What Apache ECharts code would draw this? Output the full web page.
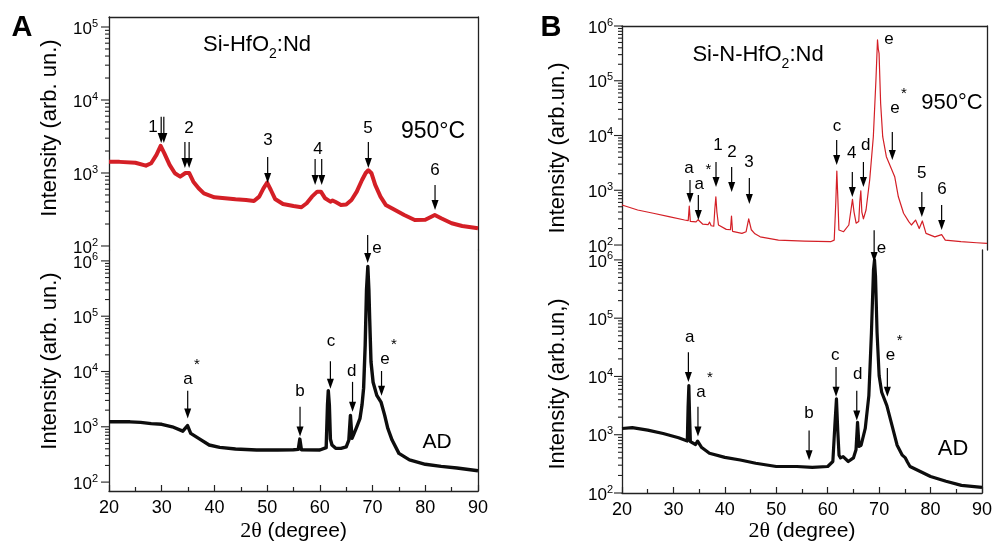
<!DOCTYPE html>
<html><head><meta charset="utf-8">
<script src="https://cdn.jsdelivr.net/npm/echarts@6/dist/echarts.min.js"></script>
<style>html,body{margin:0;padding:0;background:#fff}#c{width:995px;height:543px}</style>
</head><body><div id="c"></div>
<script>
// ---------- data ----------
const xTicks = [20, 30, 40, 50, 60, 70, 80, 90];
const yMajorTicks = [100, 1000, 10000, 100000, 1000000];
const yMinorMantissa = [2, 3, 4, 5, 6, 7, 8, 9];

// Panel A, 950°C (red)
const aTop = [[20,1430],[22,1420],[25,1380],[27,1260],[28,1360],[29,1770],[29.8,2350],[30.5,1860],[31.5,1290],[32.5,990],[33.5,890],[34.5,1000],[35.2,1000],[36,760],[37,617],[38,525],[40,465],[42,450],[44,436],[46,427],[47.5,414],[48.5,475],[49.3,617],[50,736],[50.7,585],[51.5,441],[53,376],[55,353],[56.5,339],[57.5,385],[58.5,474],[59.5,555],[60.2,555],[61,450],[62,405],[62.4,420],[63,400],[64,365],[65,370],[66,427],[67,555],[68,802],[68.7,1000],[69.2,1090],[69.8,990],[70.5,686],[71.5,475],[72.5,365],[74,318],[76,266],[78,227],[80,229],[81.8,266],[83,240],[85,205],[87,188],[90,175]];
// Panel A, AD (black)
const aBot = [[20,1230],[24,1230],[26,1200],[28,1140],[30,1110],[32,1000],[34,833],[34.9,1050],[35.5,760],[37,617],[39,468],[41,425],[44,396],[48,380],[52,380],[55,385],[55.9,390],[56.2,600],[56.5,385],[60,380],[61.2,420],[61.45,2500],[61.6,4500],[61.8,2500],[62.0,600],[62.3,468],[63,408],[64,408],[65,435],[65.5,576],[65.8,1610],[66.1,617],[66.5,760],[67.0,1000],[67.6,1400],[68.0,2500],[68.3,5000],[68.6,30000],[68.85,300000],[69.1,790000],[69.3,300000],[69.45,90000],[69.7,15000],[70.1,6400],[70.8,3700],[71.6,2800],[72.3,1610],[72.9,930],[73.7,576],[75,331],[77,252],[80,210],[83,192],[86,180],[90,160]];
// Panel B, 950°C (red)
const bTop = [[20,537],[23,436],[26,380],[29,329],[32,286],[32.7,280],[32.9,515],[33.1,270],[34.2,265],[34.6,290],[35.5,240],[36.5,235],[36.8,262],[37.1,225],[37.6,222],[37.8,450],[38.0,760],[38.2,400],[38.5,232],[40,193],[40.8,190],[41.0,339],[41.2,178],[43,163],[43.8,175],[44.3,300],[44.8,190],[45.5,160],[46.5,141],[50,123],[55,118],[60,115],[60.7,123],[61.0,600],[61.2,2250],[61.4,700],[61.6,188],[62.5,175],[63.5,232],[64.0,500],[64.2,680],[64.5,400],[64.9,251],[65.4,268],[65.6,600],[65.8,978],[66.0,400],[66.3,300],[66.8,436],[67.5,1540],[68.2,9500],[68.7,103000],[69.0,560000],[69.15,380000],[69.3,317000],[69.6,38700],[70,9500],[70.7,4100],[71.5,2700],[72.3,1770],[73,760],[74,380],[75,268],[75.5,232],[76.3,286],[77,200],[77.6,275],[78.3,163],[80,141],[81.3,155],[82,123],[85,115],[88,110],[90,107]];
// Panel B, AD (black)
const bBot = [[20,1280],[22,1320],[25,1200],[28,1050],[31,887],[32.7,780],[32.85,3000],[33.0,7000],[33.15,2000],[33.3,760],[34.3,680],[34.7,777],[35.5,603],[37,480],[40,408],[43,369],[46,324],[50,285],[54,285],[57,276],[60,285],[61,347],[61.4,1500],[61.7,4140],[61.95,1200],[62.2,446],[62.5,400],[63,420],[64,347],[65,400],[65.5,550],[65.8,1630],[66.1,630],[66.5,660],[67.3,1280],[68,4700],[68.5,56000],[68.9,675000],[69.1,1000000],[69.3,520000],[69.6,56000],[70,10300],[70.5,5360],[71.5,3160],[72.5,1450],[73.5,660],[74.5,446],[75.1,400],[75.3,430],[75.5,340],[76,285],[78,234],[80,192],[83,159],[86,135],[90,125]];

// annotations: [x, arrowTip, arrowTop, labelX, labelY]
const annAT = [[29.9,2570,5900,28.35,4270],[30.4,2570,5900,30.4,5900],[34.4,1170,2660,35.18,4130],[35.2,1170,2660,35.2,2660],[50.1,730,1660,50.16,2830],[59.1,686,1550,59.65,2130],[60.35,686,1550,60.35,1550],[69.2,1170,2660,69.14,4130],[81.85,311,686,81.85,1100]];
const annATText = ['1','','2','','3','4','','5','6'];
const annAB = [[69.07,920000,2930000,70.84,1710000],[34.93,1406,4470,34.99,7330],[56.24,668,2307,56.24,4470],[62.0,4850,15400,62.12,35200],[66.2,1880,6490,66.04,10200],[71.7,3630,10200,72.36,16700]];
const annABText = ['e','a*','b','c','d','e*'];
const annBT = [[33.04,585,1540,32.85,2550],[34.64,286,818,34.83,1300],[38.03,1150,3280,38.41,6700],[41.03,929,2660,41.1,5000],[44.42,561,1675,44.36,3280],[61.17,2890,8280,61.23,14900],[64.17,753,2154,64.05,4790],[66.3,1150,3280,66.74,6700],[71.2,580000,580000,71.2,580000],[71.84,3570,11600,72.36,31800],[77.5,324,929,77.48,2070],[81.3,188,537,81.37,1055]];
const annBTText = ['a','a*','1','2','3','c','4','d','e','e*','5','6'];
const annBB = [[69.03,925000,3240000,70.44,1600000],[32.91,8050,26100,33.18,47000],[34.77,933,3030,35.34,5450],[56.38,365,1180,56.38,2300],[61.62,4480,14500,61.48,23200],[65.65,1750,5660,65.84,11000],[71.6,4480,13960,72.22,23200]];
const annBBText = ['e','a','a*','b','c','d','e*'];

// ---------- chart ----------
const FONT = 'Arial, "Liberation Sans", sans-serif';
const SERIF = '"Liberation Serif", "Times New Roman", serif';
const RED = '#d41f26', BLACK = '#0d0d0d', AXIS = '#222';

const grids = [
  {left: 109, top: 17, width: 369, height: 233},
  {left: 109, top: 250, width: 369, height: 243},
  {left: 622, top: 26, width: 365, height: 224},
  {left: 622, top: 250, width: 365, height: 245}
];
const yExp = [[1.945, 5.137], [1.839, 6.197], [1.909, 6.0], [2.0, 6.17]];
const labelMargin = [11, 11, 9, 9];

const xAxes = grids.map((g, i) => {
  const isTop = (i % 2 === 0);
  if (isTop) return {
    gridIndex: i, type: 'value', min: 20, max: 90, interval: 10, position: 'top',
    axisLine: {show: true, lineStyle: {color: AXIS, width: 1.3}},
    axisTick: {show: false}, axisLabel: {show: false}, splitLine: {show: false}
  };
  return {
    gridIndex: i, type: 'value', min: 20, max: 90, interval: 10, position: 'bottom',
    axisLine: {show: true, lineStyle: {color: AXIS, width: 1.3}},
    axisTick: {show: true, inside: true, length: 6, lineStyle: {color: AXIS, width: 1.2}},
    minorTick: {show: true, splitNumber: 2, length: 4, lineStyle: {color: AXIS, width: 1.2}},
    axisLabel: {fontSize: 18, fontFamily: FONT, color: '#000', margin: 8,
      formatter: v => xTicks.includes(v) ? String(v) : ''},
    splitLine: {show: false},
    name: '{t|2θ} (degree)', nameLocation: 'middle', nameGap: i === 1 ? 29 : 27,
    nameTextStyle: {fontSize: 21, fontFamily: FONT, color: '#000',
      rich: {t: {fontFamily: SERIF, fontSize: 22, color: '#000'}}}
  };
});

const yAxes = [];
const tickData = [];
grids.forEach((g, i) => {
  const min = Math.pow(10, yExp[i][0]), max = Math.pow(10, yExp[i][1]);
  const majors = yMajorTicks.filter(v => v >= min * 0.999 && v <= max * 1.001);
  const rows = [];
  yMajorTicks.forEach(p => {
    if (p >= min * 0.999 && p <= max * 1.001) rows.push([20, p, 1]);
    yMinorMantissa.forEach(m => { const v = m * p; if (v >= min && v <= max) rows.push([20, v, 0]); });
  });
  tickData.push(rows);
  yAxes.push({
    gridIndex: i, type: 'log', logBase: 10, min, max, position: 'left',
    axisLine: {show: true, lineStyle: {color: AXIS, width: 1.3}},
    axisTick: {show: false},
    axisLabel: {show: true, customValues: majors, margin: labelMargin[i], fontSize: 17, fontFamily: FONT, color: '#000',
      lineHeight: 22, padding: [4, 0, 0, 0],
      formatter: v => '10{s|' + Math.round(Math.log10(v)) + '}',
      rich: {s: {fontSize: 11, fontFamily: FONT, color: '#000', lineHeight: 11, verticalAlign: 'top'}}},
    splitLine: {show: false}, minorTick: {show: false}
  });
  yAxes.push({
    gridIndex: i, type: 'log', logBase: 10, min, max, position: 'right',
    axisLine: {show: true, lineStyle: {color: AXIS, width: 1.3}},
    axisTick: {show: false}, axisLabel: {show: false}, splitLine: {show: false}
  });
});

function lineSeries(data, gi, color, width) {
  return {type: 'line', xAxisIndex: gi, yAxisIndex: gi * 2, data, showSymbol: false,
    symbol: 'none', lineStyle: {color, width, join: 'round'}, z: 2, animation: false};
}

function tickSeries(gi) {
  return {
    type: 'custom', xAxisIndex: gi, yAxisIndex: gi * 2, data: tickData[gi], clip: false, z: 6,
    animation: false, silent: true, encode: {x: 0, y: 1},
    renderItem(params, api) {
      const p = api.coord([api.value(0), api.value(1)]);
      const len = api.value(2) ? 8 : 4;
      return {type: 'line', shape: {x1: p[0] - len, y1: p[1], x2: p[0], y2: p[1]},
        style: {stroke: AXIS, lineWidth: 1.1}};
    }
  };
}

function annSeries(data, texts, gi) {
  return {
    type: 'custom', xAxisIndex: gi, yAxisIndex: gi * 2, data, clip: false, z: 5, animation: false,
    encode: {x: 0, y: 1},
    renderItem(params, api) {
      const x = api.value(0), tipV = api.value(1), topV = api.value(2);
      const tip = api.coord([x, tipV]), top = api.coord([x, topV]);
      const lab = api.coord([api.value(3), api.value(4)]);
      const t = texts[params.dataIndex];
      const ch = [];
      if (tipV !== topV) {
        ch.push({type: 'line', shape: {x1: top[0], y1: top[1], x2: tip[0], y2: tip[1] - 6},
          style: {stroke: '#000', lineWidth: 1.2}});
        ch.push({type: 'polygon', shape: {points: [[tip[0] - 3.5, tip[1] - 10], [tip[0] + 3.5, tip[1] - 10], [tip[0], tip[1]]]},
          style: {fill: '#000'}});
      }
      if (t) {
        const star = t.endsWith('*');
        const base = star ? t.slice(0, -1) : t;
        ch.push({type: 'text', x: lab[0], y: lab[1],
          style: {text: base, fontSize: 17, fontFamily: FONT, fill: '#000', align: 'center', verticalAlign: 'middle'}});
        if (star) ch.push({type: 'text', x: lab[0] + 9, y: lab[1] - 14,
          style: {text: '*', fontSize: 15, fontFamily: FONT, fill: '#000', align: 'center', verticalAlign: 'middle'}});
      }
      return {type: 'group', children: ch};
    }
  };
}

const txt = (x, y, text, size, extra) => Object.assign({type: 'text', x, y,
  style: Object.assign({text, fontSize: size, fontFamily: FONT, fill: '#000', align: 'center', verticalAlign: 'middle'}, extra || {})});

const option = {
  animation: false,
  backgroundColor: '#fff',
  grid: grids.map(g => Object.assign({containLabel: false}, g)),
  xAxis: xAxes,
  yAxis: yAxes,
  series: [
    lineSeries(aTop, 0, RED, 4),
    lineSeries(aBot, 1, BLACK, 3.4),
    lineSeries(bTop, 2, RED, 1.2),
    lineSeries(bBot, 3, BLACK, 3.2),
    tickSeries(0), tickSeries(1), tickSeries(2), tickSeries(3),
    annSeries(annAT, annATText, 0),
    annSeries(annAB, annABText, 1),
    annSeries(annBT, annBTText, 2),
    annSeries(annBB, annBBText, 3)
  ],
  graphic: [
    txt(22, 28, 'A', 29, {fontWeight: 'bold'}),
    txt(551, 28, 'B', 29, {fontWeight: 'bold'}),
    txt(257, 45, 'Si-HfO{sub|2}:Nd', 22, {lineHeight: 32, rich: {sub: {fontSize: 14, fontFamily: FONT, fill: '#000', lineHeight: 10, verticalAlign: 'bottom'}}}),
    txt(758, 55, 'Si-N-HfO{sub|2}:Nd', 22, {lineHeight: 32, rich: {sub: {fontSize: 14, fontFamily: FONT, fill: '#000', lineHeight: 10, verticalAlign: 'bottom'}}}),
    txt(433, 132, '950°C', 23),
    txt(952, 103, '950°C', 22),
    txt(437, 442, 'AD', 21),
    txt(953, 449, 'AD', 22),
    Object.assign(txt(50, 128, 'Intensity (arb. un.)', 22), {rotation: Math.PI / 2}),
    Object.assign(txt(50, 361, 'Intensity (arb. un.)', 22), {rotation: Math.PI / 2}),
    Object.assign(txt(558, 148, 'Intensity (arb.un.)', 22), {rotation: Math.PI / 2}),
    Object.assign(txt(558, 384, 'Intensity (arb.un,)', 22), {rotation: Math.PI / 2})
  ]
};

const chart = echarts.init(document.getElementById('c'), null, {renderer: 'canvas'});
chart.setOption(option);
</script></body></html>
